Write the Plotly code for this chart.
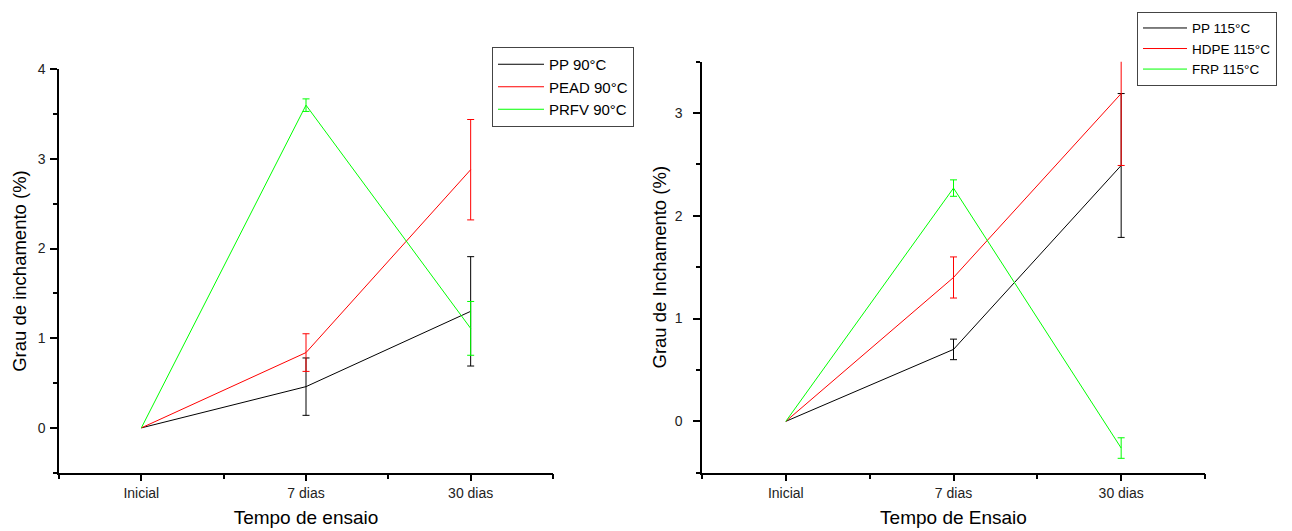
import plotly.graph_objects as go

# Test stages shared by both panels
categories = ["Inicial", "7 dias", "30 dias"]
cat_pos = [1, 2, 3]

# Swelling degree (%) at 90 °C; the initial point has no deviation
pp_90 = [0.0, 0.46, 1.30]
pp_90_err = [0.0, 0.32, 0.61]
pead_90 = [0.0, 0.84, 2.88]
pead_90_err = [0.0, 0.21, 0.56]
prfv_90 = [0.0, 3.60, 1.11]
prfv_90_err = [0.0, 0.07, 0.30]

# Swelling degree (%) at 115 °C
pp_115 = [0.0, 0.70, 2.49]
pp_115_err = [0.0, 0.10, 0.70]
hdpe_115 = [0.0, 1.40, 3.19]
hdpe_115_err = [0.0, 0.20, 0.70]
frp_115 = [0.0, 2.27, -0.26]
frp_115_err = [0.0, 0.08, 0.10]

BLACK, RED, GREEN = "#000000", "#ff0000", "#00ff00"
FONT = "Liberation Sans, Arial, sans-serif"

fig = go.Figure()


def add_series(x_ax, y_ax, legend, name, y, err, color):
    # mean curve
    fig.add_trace(go.Scatter(
        x=cat_pos, y=y, name=name, mode="lines",
        line=dict(color=color, width=1),
        xaxis=x_ax, yaxis=y_ax, legend=legend,
    ))
    # error bars only where a deviation was measured
    idx = [i for i, e in enumerate(err) if e > 0]
    fig.add_trace(go.Scatter(
        x=[cat_pos[i] for i in idx], y=[y[i] for i in idx],
        mode="markers", marker=dict(size=1, color=color, opacity=0),
        error_y=dict(type="data", array=[err[i] for i in idx], visible=True,
                     color=color, thickness=1, width=3.5),
        xaxis=x_ax, yaxis=y_ax, showlegend=False, hoverinfo="skip",
    ))


add_series("x", "y", "legend", "PP 90°C", pp_90, pp_90_err, BLACK)
add_series("x", "y", "legend", "PEAD 90°C", pead_90, pead_90_err, RED)
add_series("x", "y", "legend", "PRFV 90°C", prfv_90, prfv_90_err, GREEN)

add_series("x2", "y2", "legend2", "PP 115°C", pp_115, pp_115_err, BLACK)
add_series("x2", "y2", "legend2", "HDPE 115°C", hdpe_115, hdpe_115_err, RED)
add_series("x2", "y2", "legend2", "FRP 115°C", frp_115, frp_115_err, GREEN)

W, H = 1292, 531


def xaxis(domain, title):
    return dict(
        domain=domain, range=[0.5, 3.5], automargin=False,
        tickvals=cat_pos, ticktext=categories,
        ticks="outside", ticklen=7, tickwidth=1.5, tickcolor="#000",
        minor=dict(tick0=0.5, dtick=1, ticks="outside", ticklen=5,
                   tickwidth=1.5, tickcolor="#000"),
        showline=True, linecolor="#000", linewidth=1.5,
        showgrid=False, zeroline=False,
        tickfont=dict(family=FONT, size=14, color="#222"),
        title=dict(text=title, font=dict(family=FONT, size=19, color="#000"),
                   standoff=10),
    )


def yaxis(domain, rng, anchor, title, label_gap, title_gap):
    return dict(
        domain=domain, range=rng, anchor=anchor, automargin=False,
        dtick=1, tick0=0,
        ticks="outside", ticklen=7, tickwidth=1.5, tickcolor="#000",
        minor=dict(dtick=0.5, ticks="outside", ticklen=4,
                   tickwidth=1.5, tickcolor="#000"),
        showline=True, linecolor="#000", linewidth=1.5,
        showgrid=False, zeroline=False,
        ticklabelstandoff=label_gap,
        tickfont=dict(family=FONT, size=14, color="#222"),
        title=dict(text=title, font=dict(family=FONT, size=18.5, color="#000"),
                   standoff=title_gap),
    )


fig.update_layout(
    width=W, height=H,
    margin=dict(l=0, r=0, t=0, b=0),
    paper_bgcolor="white", plot_bgcolor="white",
    font=dict(family=FONT, color="#000"),
    xaxis=xaxis([59 / W, 553 / W], "Tempo de ensaio"),
    yaxis=yaxis([(H - 472.7) / H, (H - 69.3) / H], [-0.5, 4.0], "x",
                "Grau de inchamento (%)", 2, 6),
    xaxis2=dict(xaxis([702 / W, 1205 / W], "Tempo de Ensaio"), anchor="y2"),
    yaxis2=yaxis([(H - 472.7) / H, (H - 61.7) / H], [-0.5, 3.5], "x2",
                 "Grau de Inchamento (%)", 8, 3),
    legend=dict(x=492 / W, y=(H - 47) / H, xanchor="left", yanchor="top",
                bordercolor="#444", borderwidth=1, bgcolor="white",
                font=dict(family=FONT, size=15, color="#000"),
                itemwidth=46, tracegroupgap=0),
    legend2=dict(x=1137 / W, y=(H - 11.7) / H, xanchor="left", yanchor="top",
                 bordercolor="#444", borderwidth=1, bgcolor="white",
                 font=dict(family=FONT, size=13.5, color="#000"),
                 itemwidth=44, tracegroupgap=0),
    showlegend=True,
)

fig.write_html("out.html")
